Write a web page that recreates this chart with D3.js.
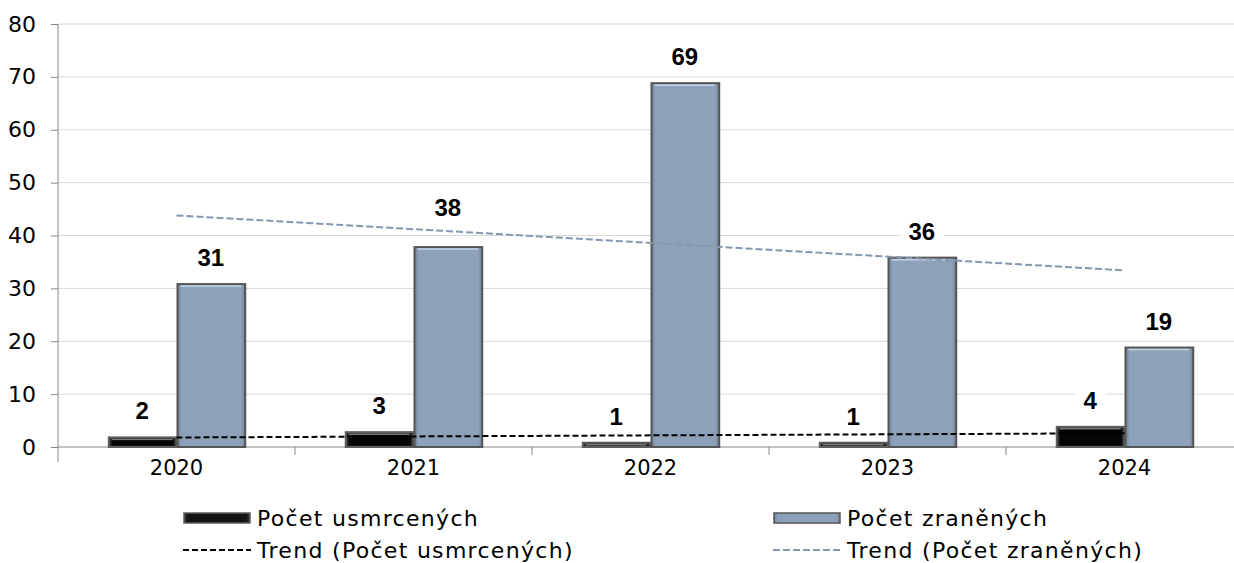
<!DOCTYPE html>
<html><head><meta charset="utf-8">
<script src="https://cdn.jsdelivr.net/npm/d3@7"></script>
<style>body{margin:0;background:#fff}svg{display:block}</style>
</head><body>
<svg id="c" width="1234" height="563"></svg>
<script>
const years = ["2020","2021","2022","2023","2024"];
const killed = [2,3,1,1,4];
const injured = [31,38,69,36,19];
const yTicks = [0,10,20,30,40,50,60,70,80];
const trendKilledEnds = [1.8, 2.6];
const trendInjuredEnds = [43.8, 33.4];
const seriesNames = ["Počet usmrcených","Počet zraněných"];
const trendNames = ["Trend (Počet usmrcených)","Trend (Počet zraněných)"];

(function(){
const FONT = "DejaVu Sans";
const LFONT = "Liberation Sans";
const svg = d3.select("#c");
const W = 1234;
const pL = 58, pR = 1243, pT = 24, pB = 447;
const x = d3.scaleBand().domain(years).range([pL, pR]).padding(0);
const bw = x.bandwidth();
const xs = d3.scaleBand().domain(["k","i"]).range([bw*0.21, bw*0.79]).padding(0);
const y = d3.scaleLinear().domain([0,80]).range([pB, pT]);

const defs = svg.append("defs");
function grad(id, stops){
  const g = defs.append("linearGradient").attr("id", id)
    .attr("x1",0).attr("y1",0).attr("x2",1).attr("y2",0);
  stops.forEach(s=>g.append("stop").attr("offset",s[0]).attr("stop-color",s[1]));
}
grad("gBlue",[[0,"#6f7f93"],[0.06,"#8ea1ba"],[0.94,"#8ea1ba"],[1,"#6f7f93"]]);
grad("gBlack",[[0,"#3a3a3a"],[0.06,"#141414"],[0.94,"#141414"],[1,"#3a3a3a"]]);

// gridlines
svg.append("g").selectAll("line").data(yTicks.filter(d=>d>0)).join("line")
  .attr("x1", pL).attr("x2", W).attr("y1", d=>y(d)).attr("y2", d=>y(d))
  .attr("stroke", "#d9d9d9").attr("stroke-width", 1);

// y axis
const yAxis = d3.axisLeft(y).tickValues(yTicks).tickSize(7).tickPadding(4).tickFormat(d3.format("d"));
const ga = svg.append("g").attr("transform", `translate(${pL},0)`).call(yAxis);
ga.select(".domain").attr("stroke","#868686").attr("d", `M0,${pT}V${pB+15}`);
ga.selectAll(".tick line").attr("stroke","#868686");
ga.selectAll(".tick text").attr("font-family", FONT).attr("font-size", 22).attr("fill","#000").attr("x",-22);

// x axis
const xAxis = d3.axisBottom(x).tickSize(0).tickPadding(13);
const gx = svg.append("g").attr("transform", `translate(0,${pB})`).call(xAxis);
gx.select(".domain").attr("stroke","#868686").attr("d", `M${pL},0H${W}`);
gx.selectAll(".tick text").attr("font-family", FONT).attr("font-size", 21).attr("fill","#000");
svg.append("g").selectAll("line").data(years.slice(1)).join("line")
  .attr("x1", d=>x(d)).attr("x2", d=>x(d)).attr("y1", pB).attr("y2", pB+8)
  .attr("stroke","#868686");

// bars
function drawBar(g, x0, w, v, kind){
  const yt = y(v), h = pB - yt;
  const fill = kind==="k" ? "url(#gBlack)" : "url(#gBlue)";
  const border = kind==="k" ? "#5e5e5e" : "#555";
  const hi = kind==="k" ? "#7a7a7a" : "#c6d3e4";
  g.append("rect").attr("x", x0+1).attr("y", yt+1).attr("width", w-1).attr("height", h-1)
    .attr("fill", fill).attr("stroke", border).attr("stroke-width", 2);
  g.append("line").attr("x1", x0+4).attr("x2", x0+w-4).attr("y1", yt+3).attr("y2", yt+3)
    .attr("stroke", hi).attr("stroke-width", 1.5);
  if (kind==="k") {
    g.append("rect").attr("x", x0+4).attr("y", yt+4).attr("width", Math.max(0,w-7)).attr("height", Math.max(0,h-6))
      .attr("fill", "#050505");
  }
}
const bars = svg.append("g");
years.forEach((yr,i)=>{
  drawBar(bars, x(yr)+xs("k"), xs.bandwidth(), killed[i], "k");
  drawBar(bars, x(yr)+xs("i"), xs.bandwidth(), injured[i], "i");
});

// labels (one label nudged further up, as in the original)
const nudge = {"2021-i": 13};
const lab = svg.append("g");
function label(cx, v, key){
  const by = y(v) - 17 - (nudge[key] || 0);
  const t = lab.append("text").attr("x", cx).attr("y", by).attr("text-anchor","middle")
    .attr("font-family", LFONT).attr("font-weight","bold").attr("font-size", 24).text(v);
  const bb = t.node().getBBox();
  lab.insert("rect", "text").attr("x", bb.x-8).attr("y", bb.y+3).attr("width", bb.width+16).attr("height", bb.height-3).attr("fill","#fff");
}
years.forEach((yr,i)=>{
  label(x(yr)+xs("k")+xs.bandwidth()/2, killed[i], yr+"-k");
  label(x(yr)+xs("i")+xs.bandwidth()/2, injured[i], yr+"-i");
});

// trend lines
const cx = d => x(d) + bw/2;
const y0 = years[0], y1 = years[years.length-1];
svg.append("line").attr("x1", cx(y0)).attr("x2", cx(y1))
  .attr("y1", y(trendInjuredEnds[0])).attr("y2", y(trendInjuredEnds[1]))
  .attr("stroke","#8497b0").attr("stroke-width",2).attr("stroke-dasharray","7,3");
svg.append("line").attr("x1", cx(y0)).attr("x2", cx(y1))
  .attr("y1", y(trendKilledEnds[0])).attr("y2", y(trendKilledEnds[1]))
  .attr("stroke","#000").attr("stroke-width",2).attr("stroke-dasharray","6,3");

// legend
const lg = svg.append("g");
const legX = [183, 773];
lg.append("rect").attr("x",legX[0]+1).attr("y",513).attr("width",66).attr("height",10)
  .attr("fill","url(#gBlack)").attr("stroke","#5e5e5e").attr("stroke-width",1.5);
lg.append("rect").attr("x",legX[1]+1).attr("y",513).attr("width",66).attr("height",10)
  .attr("fill","url(#gBlue)").attr("stroke","#555").attr("stroke-width",1.5);
lg.append("line").attr("x1",legX[0]).attr("x2",legX[0]+68).attr("y1",550).attr("y2",550)
  .attr("stroke","#000").attr("stroke-width",2).attr("stroke-dasharray","6,3");
lg.append("line").attr("x1",legX[1]).attr("x2",legX[1]+68).attr("y1",550).attr("y2",550)
  .attr("stroke","#8497b0").attr("stroke-width",2).attr("stroke-dasharray","7,3");
[0,1].forEach(i=>{
  lg.append("text").attr("x",legX[i]+74).attr("y",526).attr("font-family",FONT).attr("font-size",22)
    .attr("letter-spacing",1.3).text(seriesNames[i]);
  lg.append("text").attr("x",legX[i]+74).attr("y",558).attr("font-family",FONT).attr("font-size",22)
    .attr("letter-spacing",1.3).text(trendNames[i]);
});
})();
</script>
</body></html>
